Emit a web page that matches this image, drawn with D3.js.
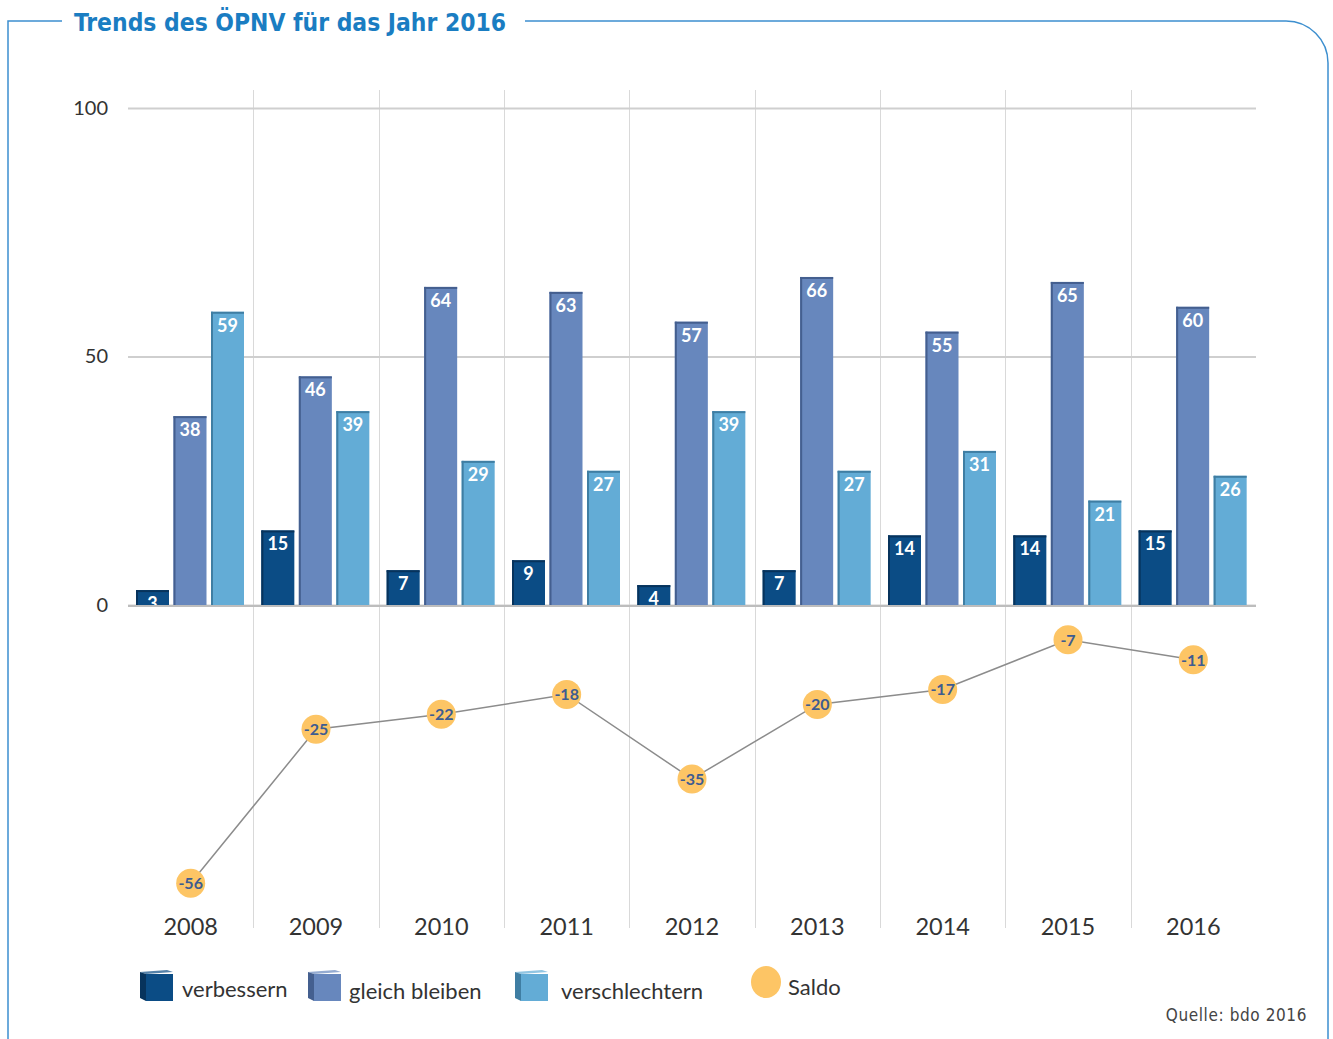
<!DOCTYPE html>
<html>
<head>
<meta charset="utf-8">
<script src="https://cdn.jsdelivr.net/npm/d3@7"></script>
<style>
  body { margin: 0; background: #fff; }
  svg { display: block; }
</style>
</head>
<body>
<div id="chart"></div>
<script>
// data
var years = ["2008", "2009", "2010", "2011", "2012", "2013", "2014", "2015", "2016"];
var seriesNames = ["verbessern", "gleich bleiben", "verschlechtern"];
var verbessern = [3, 15, 7, 9, 4, 7, 14, 14, 15];
var gleichBleiben = [38, 46, 64, 63, 57, 66, 55, 65, 60];
var verschlechtern = [59, 39, 29, 27, 39, 27, 31, 21, 26];
var saldo = [-56, -25, -22, -18, -35, -20, -17, -7, -11];
var yTicks = [0, 50, 100];

var width = 1333, height = 1039;
var colors = ["#0b4c85", "#6787bd", "#63acd6"];
var edges = ["#07335c", "#445f8f", "#3f7ea3"];
var font = "Lato, 'Open Sans', sans-serif";

var svg = d3.select("#chart").append("svg")
  .attr("width", width)
  .attr("height", height);

// frame
var frameColor = "#3d8fcf";
svg.append("path")
  .attr("d", "M8,1039 L8,21 L62,21")
  .attr("fill", "none").attr("stroke", frameColor).attr("stroke-width", 1.5);
svg.append("path")
  .attr("d", "M525,21 L1286,21 A42,42 0 0 1 1328,63 L1328,1039")
  .attr("fill", "none").attr("stroke", frameColor).attr("stroke-width", 1.5);

svg.append("text")
  .attr("x", 74).attr("y", 31)
  .attr("font-family", "'DejaVu Sans Condensed', sans-serif")
  .attr("font-weight", "bold")
  .attr("font-size", 24.4)
  .attr("fill", "#1a7dc2")
  .text("Trends des ÖPNV für das Jahr 2016");

// scales
var x0 = d3.scaleBand().domain(years).range([128, 1256]);
var x1 = d3.scaleBand().domain(d3.range(3)).range([8, 116]).paddingInner(0.12);
var y = d3.scaleLinear().domain([0, 100]).range([605, 108]);

// vertical separators
svg.append("g").selectAll("line")
  .data(years.slice(1))
  .enter().append("line")
  .attr("x1", function(d) { return Math.round(x0(d)) + 0.5; })
  .attr("x2", function(d) { return Math.round(x0(d)) + 0.5; })
  .attr("y1", 90).attr("y2", 928)
  .attr("stroke", "#d9d9d9").attr("stroke-width", 1);

// horizontal grid + tick labels
var yAxis = d3.axisLeft(y).tickValues(yTicks).tickSize(-(1256 - 128)).tickPadding(20);
var gy = svg.append("g")
  .attr("transform", "translate(128,0)")
  .call(yAxis);
gy.select(".domain").remove();
gy.selectAll(".tick line").attr("stroke", "#cfcfcf").attr("stroke-width", 2);
gy.selectAll(".tick text")
  .attr("font-family", font)
  .attr("font-size", 20)
  .attr("fill", "#333");

// bars
var rows = years.map(function(yr, i) {
  return { year: yr, values: [verbessern[i], gleichBleiben[i], verschlechtern[i]] };
});

svg.append("clipPath").attr("id", "above")
  .append("rect").attr("x", 0).attr("y", 0).attr("width", width).attr("height", y(0));

var groups = svg.append("g").selectAll("g")
  .data(rows)
  .enter().append("g")
  .attr("transform", function(d) { return "translate(" + x0(d.year) + ",0)"; });

var bar = groups.selectAll("g")
  .data(function(d) { return d.values.map(function(v, k) { return { k: k, v: v }; }); })
  .enter().append("g");

bar.append("rect")
  .attr("x", function(d) { return x1(d.k); })
  .attr("y", function(d) { return y(d.v); })
  .attr("width", x1.bandwidth())
  .attr("height", function(d) { return y(0) - y(d.v); })
  .attr("fill", function(d) { return colors[d.k]; });
// bevel left + top
bar.append("rect")
  .attr("x", function(d) { return x1(d.k); })
  .attr("y", function(d) { return y(d.v); })
  .attr("width", 2)
  .attr("height", function(d) { return y(0) - y(d.v); })
  .attr("fill", function(d) { return edges[d.k]; });
bar.append("rect")
  .attr("x", function(d) { return x1(d.k); })
  .attr("y", function(d) { return y(d.v); })
  .attr("width", x1.bandwidth())
  .attr("height", 2)
  .attr("fill", function(d) { return edges[d.k]; });

bar.append("text")
  .attr("clip-path", "url(#above)")
  .attr("x", function(d) { return x1(d.k) + x1.bandwidth() / 2; })
  .attr("y", function(d) { return y(d.v) + 20; })
  .attr("text-anchor", "middle")
  .attr("font-family", font)
  .attr("font-weight", "bold")
  .attr("font-size", 18)
  .attr("fill", "#fff")
  .text(function(d) { return d.v; });

// baseline
svg.append("line")
  .attr("x1", 128).attr("x2", 1256)
  .attr("y1", y(0) + 1).attr("y2", y(0) + 1)
  .attr("stroke", "#bdbdbd").attr("stroke-width", 2);

// saldo line
var cx = function(i) { return x0(years[i]) + x0.bandwidth() / 2; };
var line = d3.line()
  .x(function(d, i) { return cx(i); })
  .y(function(d) { return y(d); });

svg.append("path")
  .datum(saldo)
  .attr("d", line)
  .attr("fill", "none")
  .attr("stroke", "#8c8c8c")
  .attr("stroke-width", 1.5);

var dots = svg.append("g").selectAll("g")
  .data(saldo)
  .enter().append("g")
  .attr("transform", function(d, i) { return "translate(" + cx(i) + "," + y(d) + ")"; });
dots.append("circle").attr("r", 14.5).attr("fill", "#fdc565");
dots.append("text")
  .attr("y", 6)
  .attr("text-anchor", "middle")
  .attr("font-family", font)
  .attr("font-weight", "bold")
  .attr("font-size", 16)
  .attr("fill", "#3d5c91")
  .text(function(d) { return d; });

// year labels
var xAxis = d3.axisBottom(x0).tickSize(0).tickPadding(0);
var gx = svg.append("g")
  .attr("transform", "translate(0,918)")
  .call(xAxis);
gx.select(".domain").remove();
gx.selectAll(".tick text")
  .attr("dy", "0.71em")
  .attr("font-family", font)
  .attr("font-size", 23.5)
  .attr("fill", "#333");

// legend (small cubes)
var legendItems = [
  { label: seriesNames[0], x: 140, tx: 182, ty: 997, k: 0 },
  { label: seriesNames[1], x: 308, tx: 349, ty: 999, k: 1 },
  { label: seriesNames[2], x: 515, tx: 561, ty: 999, k: 2 }
];
var lg = svg.append("g").selectAll("g")
  .data(legendItems)
  .enter().append("g");
// top face
lg.append("path")
  .attr("d", function(d) { return "M" + d.x + ",972 L" + (d.x + 27) + ",970 L" + (d.x + 33) + ",972 L" + (d.x + 6) + ",974 Z"; })
  .attr("fill", function(d) { return colors[d.k]; })
  .attr("opacity", 0.7);
// side face
lg.append("path")
  .attr("d", function(d) { return "M" + d.x + ",972 L" + (d.x + 6) + ",974 L" + (d.x + 6) + ",1001 L" + d.x + ",998 Z"; })
  .attr("fill", function(d) { return edges[d.k]; });
// front face
lg.append("rect")
  .attr("x", function(d) { return d.x + 6; })
  .attr("y", 974)
  .attr("width", 27).attr("height", 27)
  .attr("fill", function(d) { return colors[d.k]; });
lg.append("text")
  .attr("x", function(d) { return d.tx; })
  .attr("y", function(d) { return d.ty; })
  .attr("font-family", font)
  .attr("font-size", 22)
  .attr("fill", "#333")
  .text(function(d) { return d.label; });

svg.append("ellipse")
  .attr("cx", 766).attr("cy", 982)
  .attr("rx", 15).attr("ry", 16)
  .attr("fill", "#fdc565");
svg.append("text")
  .attr("x", 788).attr("y", 995)
  .attr("font-family", font)
  .attr("font-size", 22)
  .attr("fill", "#333")
  .text("Saldo");

svg.append("text")
  .attr("x", 1307).attr("y", 1021)
  .attr("text-anchor", "end")
  .attr("font-family", "'DejaVu Sans Condensed', sans-serif")
  .attr("font-size", 17)
  .attr("letter-spacing", 0.6)
  .attr("fill", "#444")
  .text("Quelle: bdo 2016");
</script>
</body>
</html>
